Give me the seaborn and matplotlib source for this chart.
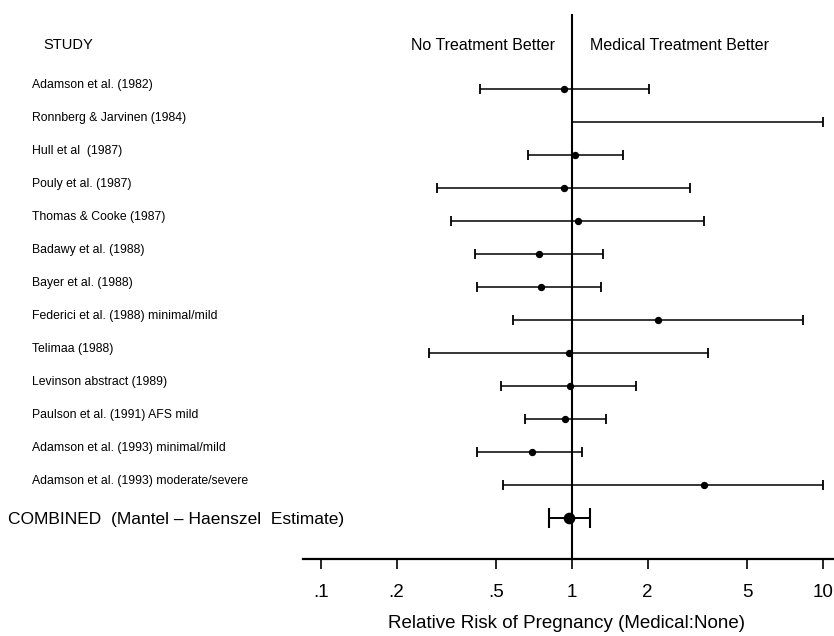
import numpy as np
import pandas as pd
import matplotlib
matplotlib.use("Agg")
import matplotlib.pyplot as plt
import matplotlib.transforms as mtransforms
import seaborn as sns

studies = [
    "Adamson et al. (1982)",
    "Ronnberg & Jarvinen (1984)",
    "Hull et al  (1987)",
    "Pouly et al. (1987)",
    "Thomas & Cooke (1987)",
    "Badawy et al. (1988)",
    "Bayer et al. (1988)",
    "Federici et al. (1988) minimal/mild",
    "Telimaa (1988)",
    "Levinson abstract (1989)",
    "Paulson et al. (1991) AFS mild",
    "Adamson et al. (1993) minimal/mild",
    "Adamson et al. (1993) moderate/severe",
]
estimate = [0.93, np.nan, 1.03, 0.93, 1.06, 0.74, 0.75, 2.21, 0.97, 0.98, 0.94, 0.69, 3.37]
lower = [0.43, 1.00, 0.67, 0.29, 0.33, 0.41, 0.42, 0.58, 0.27, 0.52, 0.65, 0.42, 0.53]
upper = [2.03, 10.0, 1.59, 2.96, 3.37, 1.33, 1.30, 8.29, 3.47, 1.80, 1.37, 1.10, 10.0]
lower_cap = [True, False, True, True, True, True, True, True, True, True, True, True, True]

combined_label = "COMBINED  (Mantel \u2013 Haenszel  Estimate)"
combined_est = 0.975
combined_low = 0.81
combined_up = 1.18

tick_values = [0.1, 0.2, 0.5, 1, 2, 5, 10]
tick_labels = [".1", ".2", ".5", "1", "2", "5", "10"]

sns.set_theme(style="white")
plt.rcParams["font.family"] = ["Liberation Sans", "DejaVu Sans"]
plt.rcParams["text.color"] = "black"
plt.rcParams["xtick.color"] = "black"
plt.rcParams["xtick.labelcolor"] = "black"

W, H = 834, 636
fig = plt.figure(figsize=(W / 100, H / 100), dpi=100)
ax_left, ax_right, ax_top, ax_bot = 303, 834, 14, 559
ax = fig.add_axes([ax_left / W, 1 - ax_bot / H, (ax_right - ax_left) / W, (ax_bot - ax_top) / H])

df = pd.DataFrame({"study": studies, "est": estimate, "lo": lower, "hi": upper,
                   "row": np.arange(len(studies)), "lcap": lower_cap})
comb_row = len(studies)
dfc = pd.DataFrame({"est": [combined_est], "lo": [combined_low], "hi": [combined_up], "row": [comb_row]})

ax.set_xscale("log")
# intervals
ax.hlines(df["row"], df["lo"], df["hi"], color="black", lw=1.1)
ax.hlines(dfc["row"], dfc["lo"], dfc["hi"], color="black", lw=1.4)
# caps
caps_x = list(df["hi"]) + list(df.loc[df["lcap"], "lo"])
caps_y = list(df["row"]) + list(df.loc[df["lcap"], "row"])
ax.plot(caps_x, caps_y, ls="none", marker="|", ms=7.5, mew=1.3, color="black")
ax.plot([combined_low, combined_up], [comb_row, comb_row], ls="none", marker="|", ms=15, mew=1.5, color="black")
# points
sns.scatterplot(data=df.dropna(subset=["est"]), x="est", y="row", ax=ax, color="black",
                s=28, edgecolor="black", linewidth=0, zorder=5)
sns.scatterplot(data=dfc, x="est", y="row", ax=ax, color="black", s=70,
                edgecolor="black", linewidth=0, zorder=5)

# reference line at 1
ax.axvline(1, color="black", lw=1.5, zorder=1)

# scales
px_per_dec = 251.0
x1 = 572.0
ax.set_xlim(10 ** ((ax_left - x1) / px_per_dec), 10 ** ((ax_right - x1) / px_per_dec))
row0, dy = 89.0, 33.0
ax.set_ylim((ax_bot - row0) / dy, (ax_top - row0) / dy)

ax.set_xticks(tick_values)
ax.set_xticklabels(tick_labels)
ax.xaxis.set_minor_locator(matplotlib.ticker.NullLocator())
ax.tick_params(axis="x", direction="out", length=7, width=1.2, pad=11, labelsize=13.5,
               bottom=True, colors="black")
ax.set_yticks([])
ax.set_xlabel("")
ax.set_ylabel("")
for s in ["top", "left", "right"]:
    ax.spines[s].set_visible(False)
ax.spines["bottom"].set_linewidth(1.6)
ax.spines["bottom"].set_color("black")

trans = mtransforms.blended_transform_factory(fig.transFigure, ax.transData)
for i, name in enumerate(studies):
    ax.text(32 / W, i - 0.13, name, transform=trans, ha="left", va="center", fontsize=8.8,
            color="black", clip_on=False)
ax.text(8 / W, comb_row + 0.05, combined_label, transform=trans, ha="left", va="center", fontsize=12.5,
        color="black", clip_on=False)
hdr_row = (45 - row0) / dy
ax.text(43 / W, hdr_row, "STUDY", transform=trans, ha="left", va="center", fontsize=10.5,
        color="black", clip_on=False)
ax.text(555 / W, hdr_row, "No Treatment Better", transform=trans, ha="right", va="center", fontsize=11.5,
        color="black", clip_on=False)
ax.text(590 / W, hdr_row, "Medical Treatment Better", transform=trans, ha="left", va="center", fontsize=11.5,
        color="black", clip_on=False)

fig.text(567 / W, 1 - 623 / H, "Relative Risk of Pregnancy (Medical:None)", ha="center", va="center",
         fontsize=13.5, color="black")

fig.savefig("out.png", dpi=100, facecolor="white")
